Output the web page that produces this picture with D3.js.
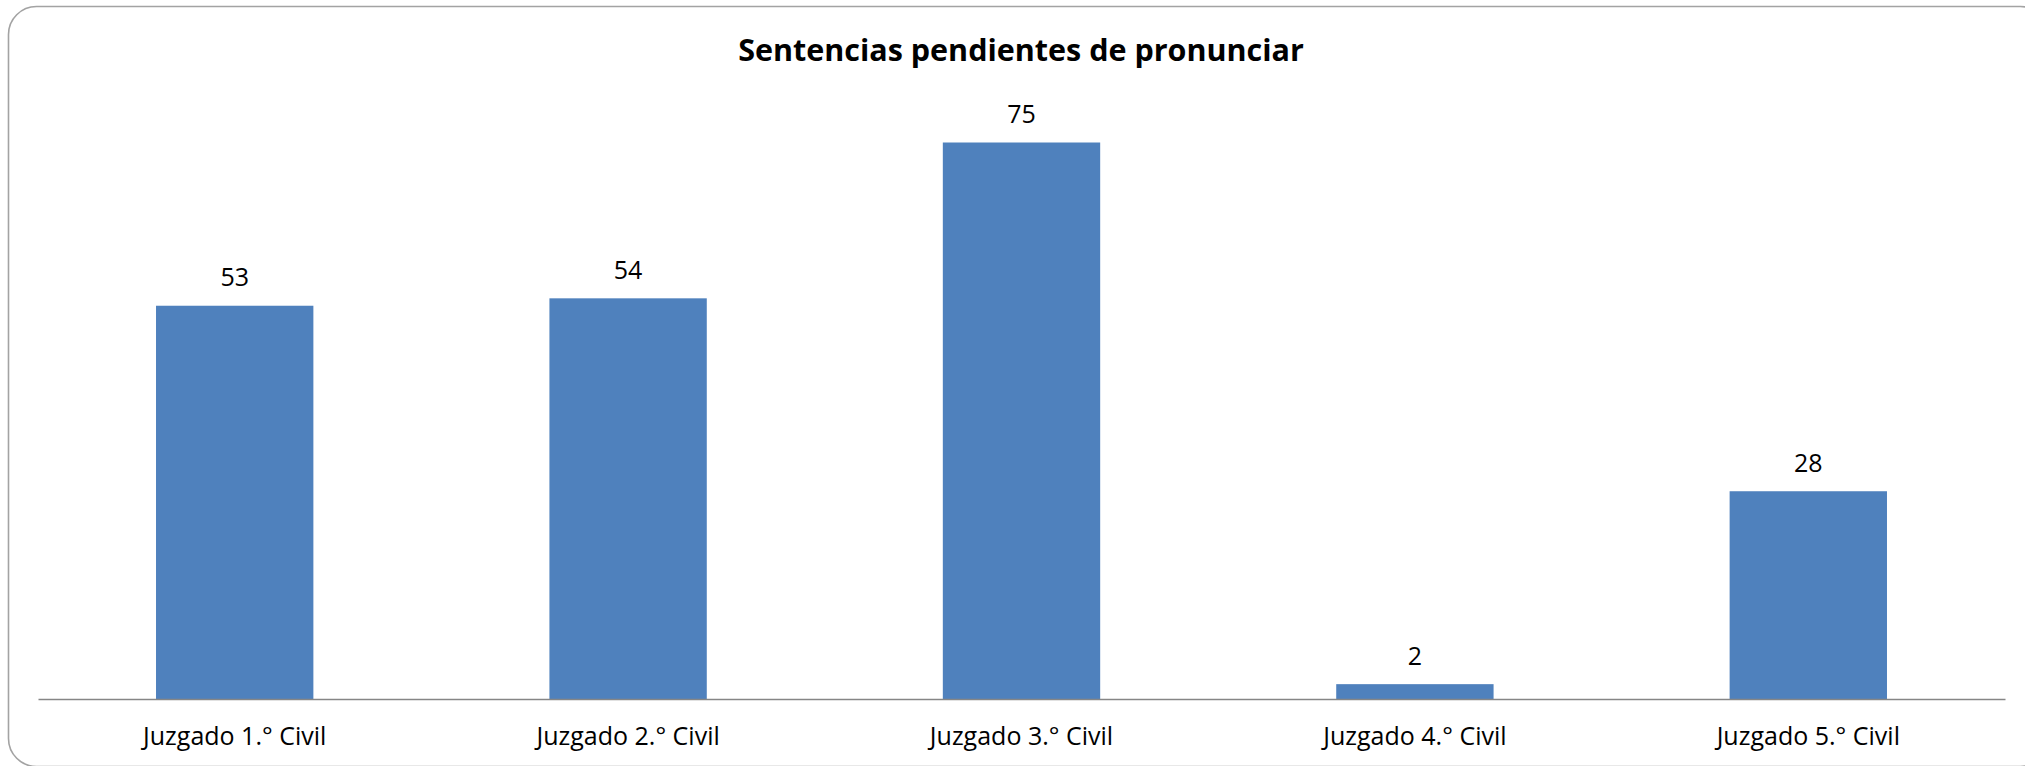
<!DOCTYPE html>
<html>
<head>
<meta charset="utf-8">
<script src="https://cdn.jsdelivr.net/npm/d3@7"></script>
<style>
  body { margin: 0; background: #fff; }
  text { font-family: "Open Sans", "Noto Sans", sans-serif; fill: #000; }
</style>
</head>
<body>
<div id="app"></div>
<script>
const categories = ['Juzgado 1.° Civil', 'Juzgado 2.° Civil', 'Juzgado 3.° Civil', 'Juzgado 4.° Civil', 'Juzgado 5.° Civil']
const values = [53, 54, 75, 2, 28]
const yMax = 80

const width = 2025
const height = 766
const axisY = 699

const svg = d3.select('#app').append('svg')
    .attr('width', width)
    .attr('height', height)

// chart frame with rounded corners, runs off the right/bottom edge
svg.append('rect')
    .attr('x', 8.5).attr('y', 6.5)
    .attr('width', 2040).attr('height', 760)
    .attr('rx', 28).attr('ry', 28)
    .attr('fill', 'none')
    .attr('stroke', '#a3a3a3')
    .attr('stroke-width', 1.6)

svg.append('text')
    .attr('x', 1021).attr('y', 61)
    .attr('text-anchor', 'middle')
    .attr('font-weight', 'bold')
    .attr('font-size', 30.5)
    .text('Sentencias pendientes de pronunciar')

const x = d3.scaleBand()
    .domain(categories)
    .range([38, 2005])
    .paddingInner(0.6)
    .paddingOuter(0.3)

const y = d3.scaleLinear()
    .domain([0, yMax])
    .range([axisY, axisY - yMax * 7.42])

svg.selectAll('rect.bar')
    .data(values)
    .join('rect')
    .attr('class', 'bar')
    .attr('x', (d, i) => x(categories[i]))
    .attr('y', d => y(d))
    .attr('width', x.bandwidth())
    .attr('height', d => y(0) - y(d))
    .attr('fill', '#4f81bd')

svg.selectAll('text.val')
    .data(values)
    .join('text')
    .attr('class', 'val')
    .attr('x', (d, i) => x(categories[i]) + x.bandwidth() / 2)
    .attr('y', d => y(d) - 19.5)
    .attr('text-anchor', 'middle')
    .attr('font-size', 25)
    .text(d => d)

const axis = d3.axisBottom(x).tickSize(0).tickPadding(28)
const g = svg.append('g')
    .attr('transform', `translate(0,${axisY})`)
    .call(axis)
g.select('.domain').attr('stroke', '#868686').attr('stroke-width', 1.6)
g.selectAll('text')
    .attr('font-size', 25)
    .attr('font-family', '"Open Sans", "Noto Sans", sans-serif')
    .attr('fill', '#000')
</script>
</body>
</html>
